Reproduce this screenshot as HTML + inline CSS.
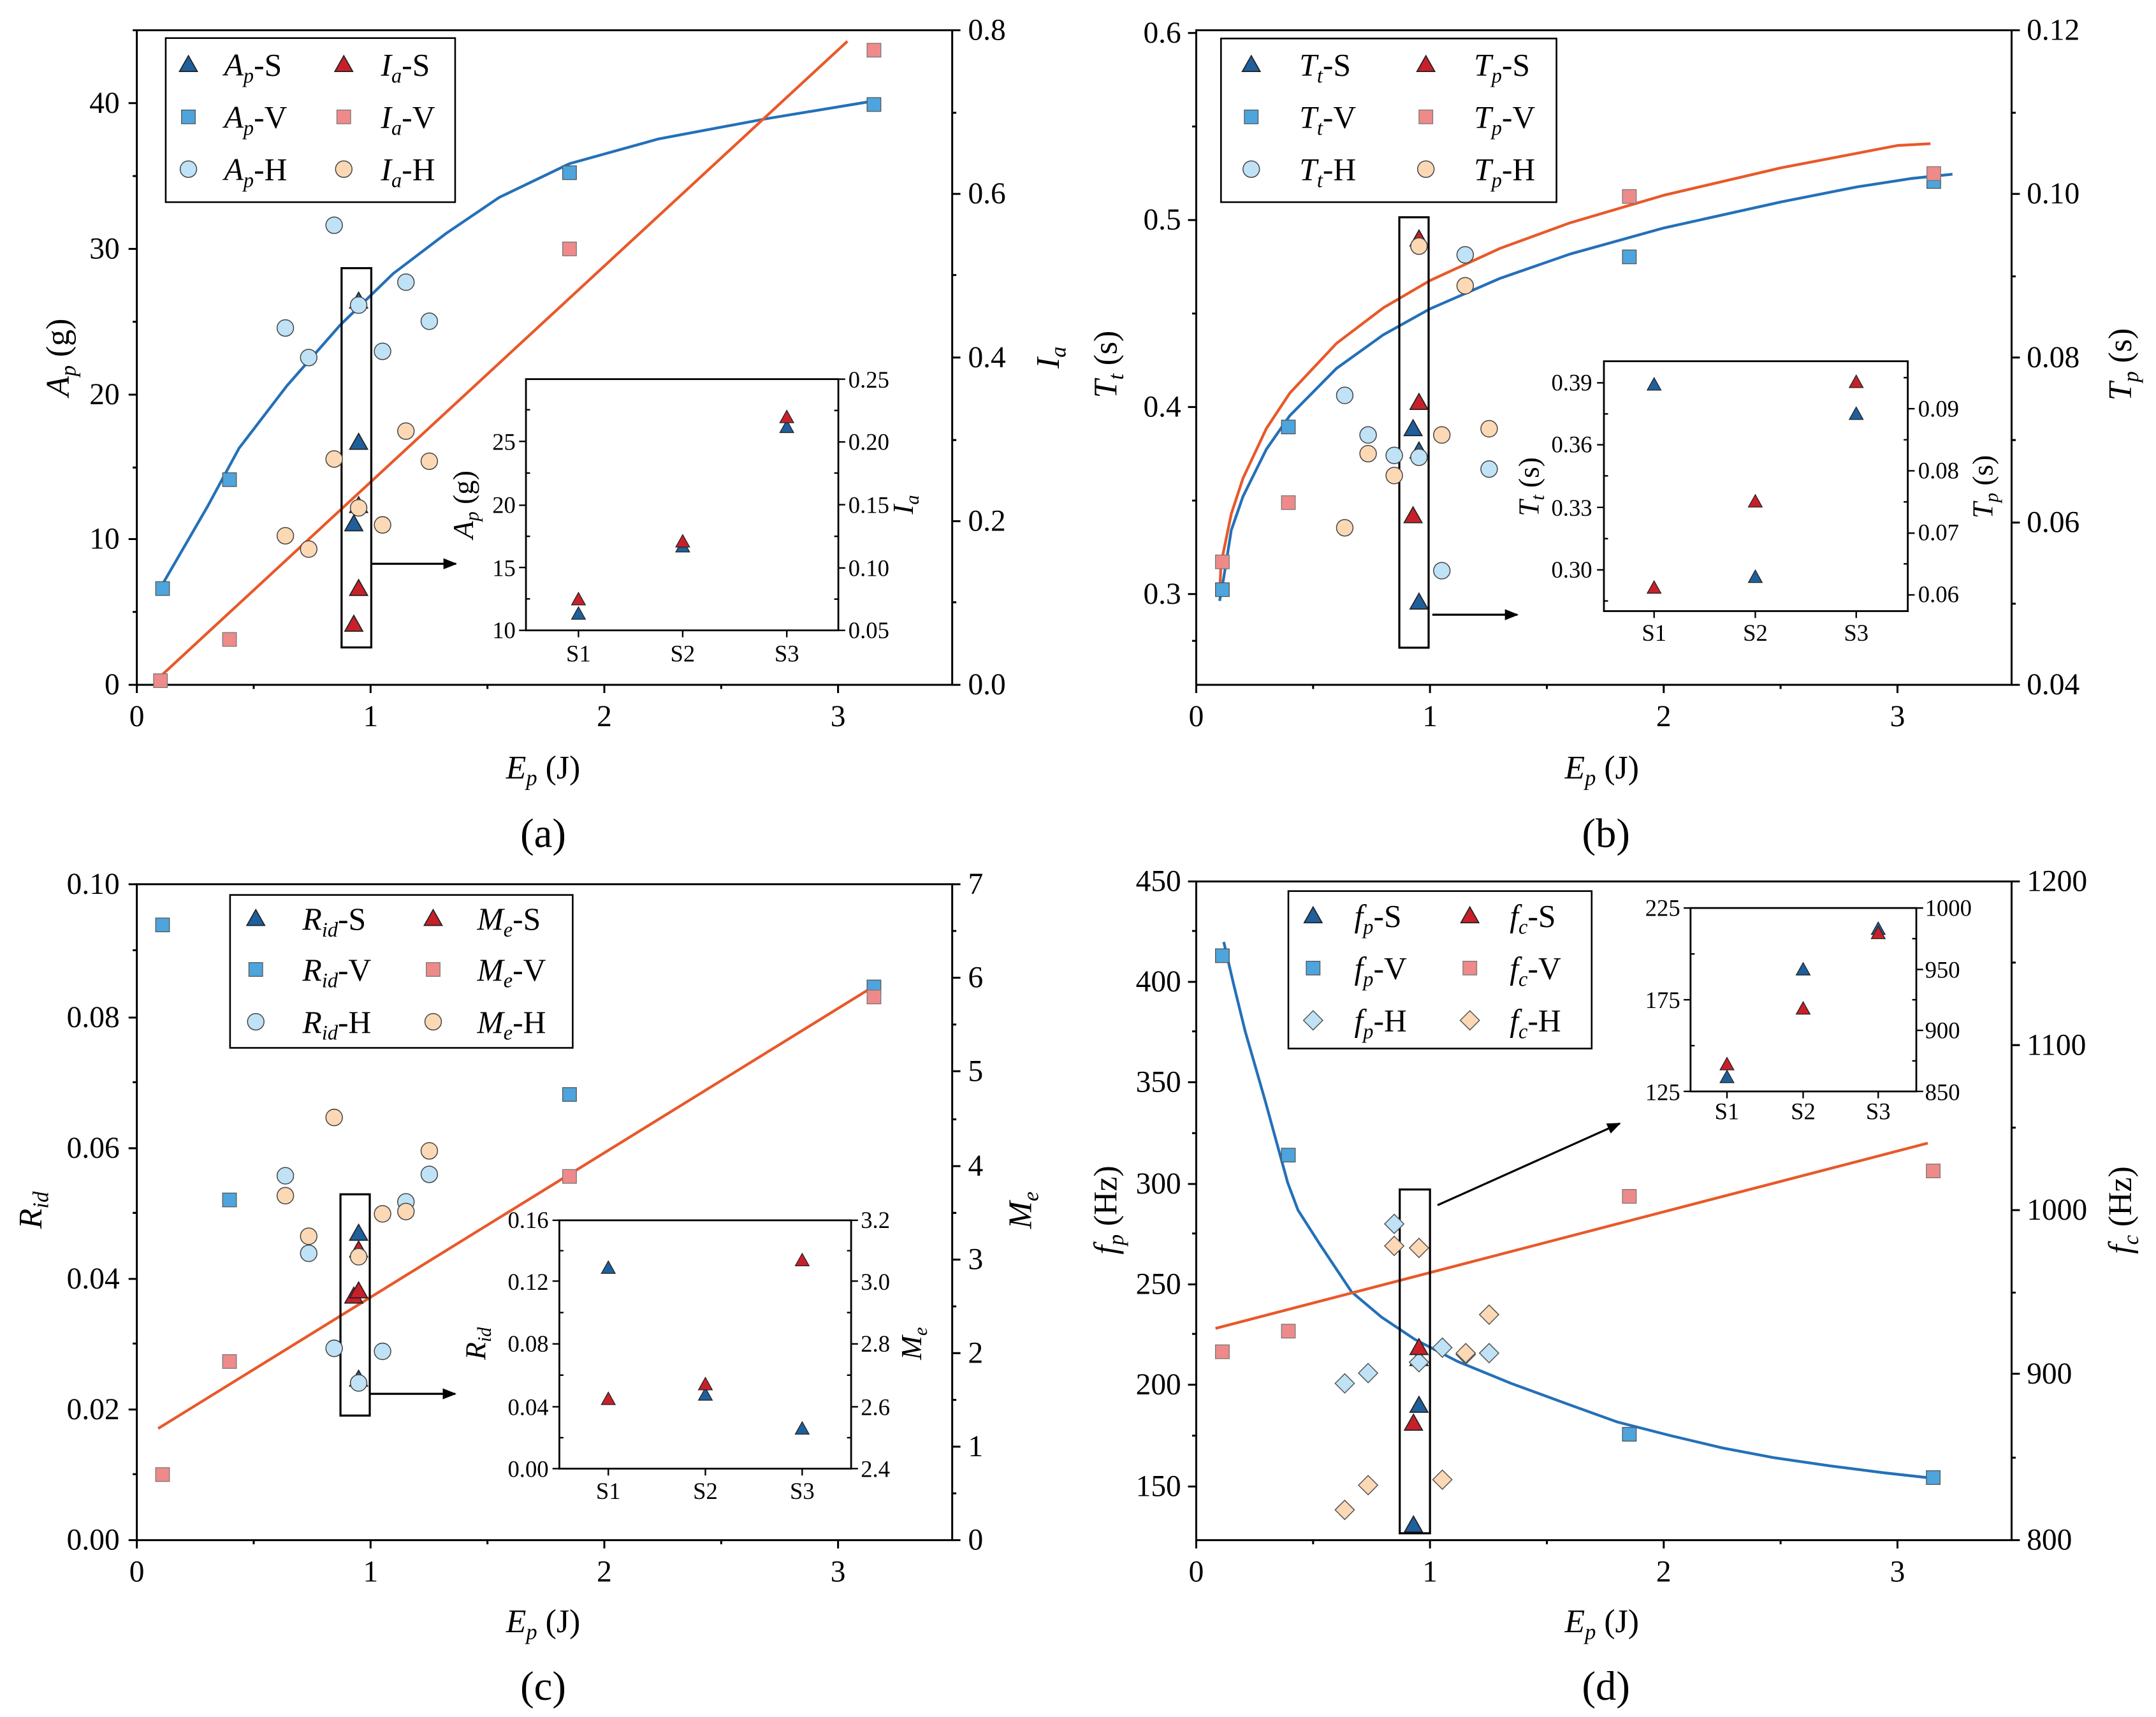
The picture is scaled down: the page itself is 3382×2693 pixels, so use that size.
<!DOCTYPE html>
<html><head><meta charset="utf-8"><style>html,body{margin:0;padding:0;background:#fff}svg{display:block}</style></head><body>
<svg xmlns="http://www.w3.org/2000/svg" width="3382" height="2693" viewBox="0 0 1568 1248.6" font-family="Liberation Serif, serif" fill="#000">
<defs>
<g id="tb"><path d="M0,-6.5 L6.5,5 L-6.5,5Z" fill="#1f5f9c" stroke="#222" stroke-width="0.8"/></g>
<g id="tr"><path d="M0,-6.5 L6.5,5 L-6.5,5Z" fill="#c8202a" stroke="#222" stroke-width="0.8"/></g>
<g id="sb"><rect x="-5" y="-5" width="10" height="10" fill="#4ea4dc" stroke="#555" stroke-width="0.6"/></g>
<g id="sp"><rect x="-5" y="-5" width="10" height="10" fill="#ef8a8a" stroke="#777" stroke-width="0.6"/></g>
<g id="cb"><circle r="6" fill="#bfe2f6" stroke="#444" stroke-width="0.7"/></g>
<g id="cp"><circle r="6" fill="#fcd8b4" stroke="#444" stroke-width="0.7"/></g>
<g id="db"><path d="M0,-7 L7,0 L0,7 L-7,0Z" fill="#bfe2f6" stroke="#555" stroke-width="0.7"/></g>
<g id="dp"><path d="M0,-7 L7,0 L0,7 L-7,0Z" fill="#fcd8b4" stroke="#555" stroke-width="0.7"/></g>
<g id="stb"><path d="M0,-5 L5,4 L-5,4Z" fill="#1f5f9c" stroke="#222" stroke-width="0.6"/></g>
<g id="str"><path d="M0,-5 L5,4 L-5,4Z" fill="#c8202a" stroke="#222" stroke-width="0.6"/></g>
<marker id="ar" markerWidth="10" markerHeight="10" refX="9" refY="5" orient="auto" markerUnits="userSpaceOnUse"><path d="M0,1 L10,5 L0,9Z" fill="#000"/></marker>
</defs>
<g stroke="#000" stroke-width="1.4" fill="none">
<rect x="99.5" y="22" width="593" height="476"/>
<rect x="870" y="22" width="593" height="476"/>
<rect x="99.5" y="643" width="593" height="477"/>
<rect x="870" y="641" width="593" height="479"/>
<path d="M99.5,498v6M184.5,498v3M269.5,498v6M354.5,498v3M439.5,498v6M524.5,498v3M609.5,498v6"/>
<path d="M99.5,498h-6M99.5,445h-3M99.5,392h-6M99.5,340h-3M99.5,287h-6M99.5,234h-3M99.5,181h-6M99.5,128h-3M99.5,75h-6M99.5,22h-3"/>
<path d="M692.5,498h6M692.5,438h3M692.5,379h6M692.5,320h3M692.5,260h6M692.5,200h3M692.5,141h6M692.5,82h3M692.5,22h6"/>
<path d="M870,498v6M955,498v3M1040,498v6M1125,498v3M1210,498v6M1295,498v3M1380,498v6"/>
<path d="M870,432h-6M870,364h-3M870,296h-6M870,228h-3M870,160h-6M870,92h-3M870,24h-6M870,466h-3"/>
<path d="M1463,498h6M1463,439h3M1463,380h6M1463,320h3M1463,260h6M1463,201h3M1463,141h6M1463,82h3M1463,22h6"/>
<path d="M99.5,1120v6M184.5,1120v3M269.5,1120v6M354.5,1120v3M439.5,1120v6M524.5,1120v3M609.5,1120v6"/>
<path d="M99.5,1120h-6M99.5,1072h-3M99.5,1025h-6M99.5,977h-3M99.5,930h-6M99.5,882h-3M99.5,835h-6M99.5,787h-3M99.5,740h-6M99.5,691h-3M99.5,643h-6"/>
<path d="M692.5,1120h6M692.5,1086h3M692.5,1052h6M692.5,1018h3M692.5,984h6M692.5,950h3M692.5,916h6M692.5,882h3M692.5,848h6M692.5,814h3M692.5,779h6M692.5,745h3M692.5,711h6M692.5,677h3M692.5,643h6"/>
<path d="M870,1120v6M955,1120v3M1040,1120v6M1125,1120v3M1210,1120v6M1295,1120v3M1380,1120v6"/>
<path d="M870,1081h-6M870,1044h-3M870,1007h-6M870,970h-3M870,934h-6M870,897h-3M870,861h-6M870,824h-3M870,787h-6M870,750h-3M870,714h-6M870,677h-3M870,641h-6"/>
<path d="M1463,1120h6M1463,1060h3M1463,999h6M1463,940h3M1463,880h6M1463,820h3M1463,760h6M1463,700h3M1463,641h6"/>
</g>
<g font-size="22" text-anchor="middle">
<text x="99.5" y="528">0</text><text x="269.5" y="528">1</text><text x="439.5" y="528">2</text><text x="609.5" y="528">3</text>
<text x="870" y="528">0</text><text x="1040" y="528">1</text><text x="1210" y="528">2</text><text x="1380" y="528">3</text>
<text x="99.5" y="1150">0</text><text x="269.5" y="1150">1</text><text x="439.5" y="1150">2</text><text x="609.5" y="1150">3</text>
<text x="870" y="1150">0</text><text x="1040" y="1150">1</text><text x="1210" y="1150">2</text><text x="1380" y="1150">3</text>
</g>
<g font-size="22" text-anchor="end">
<text x="87" y="505">0</text><text x="87" y="399">10</text><text x="87" y="294">20</text><text x="87" y="188">30</text><text x="87" y="82">40</text>
<text x="859" y="439">0.3</text><text x="859" y="303">0.4</text><text x="859" y="167">0.5</text><text x="859" y="31">0.6</text>
<text x="87" y="1127">0.00</text><text x="87" y="1032">0.02</text><text x="87" y="937">0.04</text><text x="87" y="842">0.06</text><text x="87" y="747">0.08</text><text x="87" y="650">0.10</text>
<text x="859" y="1088">150</text><text x="859" y="1014">200</text><text x="859" y="941">250</text><text x="859" y="868">300</text><text x="859" y="794">350</text><text x="859" y="721">400</text><text x="859" y="648">450</text>
</g>
<g font-size="22" text-anchor="start">
<text x="704" y="505">0.0</text><text x="704" y="386">0.2</text><text x="704" y="267">0.4</text><text x="704" y="148">0.6</text><text x="704" y="29">0.8</text>
<text x="1474" y="505">0.04</text><text x="1474" y="387">0.06</text><text x="1474" y="267">0.08</text><text x="1474" y="148">0.10</text><text x="1474" y="29">0.12</text>
<text x="704" y="1127">0</text><text x="704" y="1059">1</text><text x="704" y="991">2</text><text x="704" y="923">3</text><text x="704" y="855">4</text><text x="704" y="786">5</text><text x="704" y="718">6</text><text x="704" y="650">7</text>
<text x="1474" y="1127">800</text><text x="1474" y="1006">900</text><text x="1474" y="887">1000</text><text x="1474" y="767">1100</text><text x="1474" y="648">1200</text>
</g>
<g font-size="24" text-anchor="middle">
<text x="395" y="566"><tspan font-style="italic">E</tspan><tspan font-style="italic" font-size="16" dy="5">p</tspan><tspan dy="-5"> (J)</tspan></text>
<text x="1165" y="566"><tspan font-style="italic">E</tspan><tspan font-style="italic" font-size="16" dy="5">p</tspan><tspan dy="-5"> (J)</tspan></text>
<text x="395" y="1187"><tspan font-style="italic">E</tspan><tspan font-style="italic" font-size="16" dy="5">p</tspan><tspan dy="-5"> (J)</tspan></text>
<text x="1165" y="1187"><tspan font-style="italic">E</tspan><tspan font-style="italic" font-size="16" dy="5">p</tspan><tspan dy="-5"> (J)</tspan></text>
<text x="395" y="616" font-size="30">(a)</text><text x="1168" y="616" font-size="30">(b)</text>
<text x="395" y="1236" font-size="30">(c)</text><text x="1168" y="1236" font-size="30">(d)</text>
<text transform="translate(50,260) rotate(-90)"><tspan font-style="italic">A</tspan><tspan font-style="italic" font-size="16" dy="5">p</tspan><tspan dy="-5"> (g)</tspan></text>
<text transform="translate(770,260) rotate(-90)"><tspan font-style="italic">I</tspan><tspan font-style="italic" font-size="16" dy="5">a</tspan></text>
<text transform="translate(812,265) rotate(-90)"><tspan font-style="italic">T</tspan><tspan font-style="italic" font-size="16" dy="5">t</tspan><tspan dy="-5"> (s)</tspan></text>
<text transform="translate(1550,265) rotate(-90)"><tspan font-style="italic">T</tspan><tspan font-style="italic" font-size="16" dy="5">p</tspan><tspan dy="-5"> (s)</tspan></text>
<text transform="translate(30,880) rotate(-90)"><tspan font-style="italic">R</tspan><tspan font-style="italic" font-size="16" dy="5">id</tspan></text>
<text transform="translate(750,880) rotate(-90)"><tspan font-style="italic">M</tspan><tspan font-style="italic" font-size="16" dy="5">e</tspan></text>
<text transform="translate(812,880) rotate(-90)"><tspan font-style="italic">f</tspan><tspan font-style="italic" font-size="16" dy="5">p</tspan><tspan dy="-5"> (Hz)</tspan></text>
<text transform="translate(1550,880) rotate(-90)"><tspan font-style="italic">f</tspan><tspan font-style="italic" font-size="16" dy="5">c</tspan><tspan dy="-5"> (Hz)</tspan></text>
</g>
<g fill="none" stroke-width="2" stroke-linejoin="round">
<polyline stroke="#2470b8" points="116.7,427.4 150.7,368.7 173.8,326 208.6,280.6 247.3,236.5 285.9,199 324.5,169.7 363,143.6 414.2,119 479,101 556.4,86.5 635.6,73.4"/>
<path stroke="#e8592a" d="M114,494.3 L616.3,30"/>
<polyline stroke="#2470b8" points="887,437 890,420 895.5,385.5 904,361 921,326.7 938,302.3 972,267.9 1006,243.5 1040,224.6 1091,202.4 1142,184.7 1210,165.8 1295,146.9 1350,136 1390,129.8 1420,126.7"/>
<polyline stroke="#e8592a" points="887,432 888,409.9 895.5,373.6 904,347.8 921,311.6 938,285.9 972,249.7 1006,223.9 1040,204 1091,180.6 1142,162 1210,142 1295,122.1 1380,105.8 1404,104.5"/>
<path stroke="#e8592a" d="M115,1038.8 L638.3,715.5"/>
<polyline stroke="#2470b8" points="890,685 897,715 905.6,750 920,800 936.5,860 944,880 960,905 983,939.5 1005,958 1029,974 1060,990 1099,1006 1140,1021 1176,1034 1215,1044 1253,1053 1290,1060 1331,1066 1370,1071 1406,1075"/>
<path stroke="#e8592a" d="M884,966 L1402,831.3"/>
</g>
<g fill="none" stroke="#000" stroke-width="1.5">
<rect x="248.4" y="195" width="21.6" height="275.8"/>
<rect x="1017.7" y="158" width="21.3" height="313"/>
<rect x="247.6" y="868.5" width="21.3" height="160.9"/>
<rect x="1018" y="865" width="22" height="250"/>
<path d="M270,410H331.5" marker-end="url(#ar)"/>
<path d="M1041.7,447H1103.5" marker-end="url(#ar)"/>
<path d="M268.9,1013.6H331" marker-end="url(#ar)"/>
<path d="M1045.5,876.4L1178,817" marker-end="url(#ar)"/>
</g>
<!-- a data -->
<use href="#sb" x="118.2" y="428"/><use href="#sb" x="166.9" y="348.8"/><use href="#sb" x="414.2" y="125.6"/><use href="#sb" x="635.6" y="76"/>
<use href="#sp" x="116.7" y="495"/><use href="#sp" x="166.9" y="465"/><use href="#sp" x="414.2" y="181"/><use href="#sp" x="635.6" y="36.5"/>
<use href="#cb" x="207.5" y="238.5"/><use href="#cb" x="224.5" y="260"/><use href="#cb" x="243" y="163.8"/><use href="#cb" x="278.2" y="255.5"/><use href="#cb" x="295.2" y="205.2"/><use href="#cb" x="312.2" y="233.6"/>
<use href="#cp" x="207.5" y="389.6"/><use href="#cp" x="224.5" y="399.3"/><use href="#cp" x="243" y="333.8"/><use href="#cp" x="278.2" y="381.7"/><use href="#cp" x="295.2" y="313.5"/><use href="#cp" x="312.2" y="335.4"/>
<use href="#tr" x="260.8" y="367.7"/><use href="#cp" x="260.8" y="369.3"/>
<use href="#tb" x="260.8" y="219"/><use href="#cb" x="260.8" y="221.9"/>
<use href="#tb" x="260.8" y="321.7"/><use href="#tb" x="257.3" y="381"/>
<use href="#tr" x="260.8" y="428"/><use href="#tr" x="257.3" y="454"/>
<!-- b data -->
<use href="#sb" x="889" y="428.8"/><use href="#sb" x="937" y="310.5"/><use href="#sb" x="1185" y="186.8"/><use href="#sb" x="1406.4" y="132"/>
<use href="#sp" x="889" y="408.6"/><use href="#sp" x="937" y="365.5"/><use href="#sp" x="1185" y="142.9"/><use href="#sp" x="1406.4" y="126.2"/>
<use href="#cb" x="978" y="287.5"/><use href="#cb" x="995" y="316.3"/><use href="#cb" x="1014" y="331.2"/><use href="#cb" x="1048.6" y="415"/><use href="#cb" x="1065.6" y="185.3"/><use href="#cb" x="1083" y="341.1"/>
<use href="#cp" x="978" y="383.8"/><use href="#cp" x="995" y="329.9"/><use href="#cp" x="1014" y="345.8"/><use href="#cp" x="1048.6" y="316.3"/><use href="#cp" x="1065.6" y="207.8"/><use href="#cp" x="1083" y="311.8"/>
<use href="#tr" x="1032" y="173.8"/><use href="#cp" x="1032" y="179"/>
<use href="#tb" x="1032" y="328"/><use href="#cb" x="1032" y="332.5"/>
<use href="#tb" x="1027.7" y="311.8"/><use href="#tb" x="1032" y="437.9"/><use href="#tr" x="1032" y="292.7"/><use href="#tr" x="1027.7" y="375.1"/>
<!-- c data -->
<use href="#sb" x="118.2" y="672.6"/><use href="#sb" x="166.9" y="872.6"/><use href="#sb" x="414.2" y="795.9"/><use href="#sb" x="635.6" y="717.7"/>
<use href="#sp" x="118.2" y="1072.3"/><use href="#sp" x="166.9" y="990.1"/><use href="#sp" x="414.2" y="855.5"/><use href="#sp" x="635.6" y="725"/>
<use href="#cb" x="207.5" y="855"/><use href="#cb" x="224.5" y="911.4"/><use href="#cb" x="243" y="980.5"/><use href="#cb" x="278.2" y="982.7"/><use href="#cb" x="295.2" y="874"/><use href="#cb" x="312.2" y="854"/>
<use href="#cp" x="207.5" y="869.5"/><use href="#cp" x="224.5" y="899"/><use href="#cp" x="243" y="812.6"/><use href="#cp" x="278.2" y="882.7"/><use href="#cp" x="295.2" y="881"/><use href="#cp" x="312.2" y="836.9"/>
<use href="#tb" x="260.8" y="1003"/><use href="#cb" x="260.8" y="1005.7"/>
<use href="#tr" x="260.8" y="909"/><use href="#cp" x="260.8" y="913.9"/>
<use href="#tb" x="260.8" y="896.9"/><use href="#tr" x="257.3" y="942.6"/><use href="#tr" x="260.8" y="938.8"/>
<!-- d data -->
<use href="#sb" x="889" y="695"/><use href="#sb" x="937" y="840"/><use href="#sb" x="1185" y="1043"/><use href="#sb" x="1406" y="1074.5"/>
<use href="#sp" x="889" y="983"/><use href="#sp" x="937" y="968"/><use href="#sp" x="1185" y="870"/><use href="#sp" x="1406" y="851.5"/>
<use href="#db" x="1014" y="890"/><use href="#db" x="978" y="1006"/><use href="#db" x="995" y="998.5"/><use href="#db" x="1049" y="980"/><use href="#db" x="1066" y="985"/><use href="#db" x="1083" y="984"/>
<use href="#dp" x="1014" y="906"/><use href="#dp" x="1032" y="907.5"/><use href="#dp" x="1083" y="956"/><use href="#dp" x="1066" y="984"/><use href="#dp" x="978" y="1098"/><use href="#dp" x="995" y="1080"/><use href="#dp" x="1049" y="1076"/>
<use href="#tb" x="1032" y="988"/><use href="#db" x="1032" y="990.6"/>
<use href="#tb" x="1032" y="1022"/><use href="#tb" x="1028" y="1109"/><use href="#tr" x="1032" y="980"/><use href="#tr" x="1028" y="1035"/>
<!-- insets -->
<g fill="#fff" stroke="#000" stroke-width="1.3">
<rect x="382.5" y="275.7" width="227.2" height="182.7"/>
<rect x="1166.5" y="262.7" width="221" height="181.7"/>
<rect x="406.8" y="887.4" width="212.2" height="180.6"/>
<rect x="1229.5" y="660.3" width="164.2" height="133.4"/>
</g>
<g stroke="#000" stroke-width="1.1" fill="none">
<path d="M382.5,458.4h-5M382.5,412.7h-5M382.5,367.4h-5M382.5,321h-5M382.5,435.5h3M382.5,390h3M382.5,344h3M382.5,298h3M609.7,275.7h5M609.7,321.4h5M609.7,367h5M609.7,413h5M609.7,458.4h5M609.7,298.5h-3M609.7,344h-3M609.7,390h-3M609.7,435.7h-3M420.7,458.4v5M496.5,458.4v5M572.2,458.4v5"/>
<path d="M1166.5,278.4h-5M1166.5,323.4h-5M1166.5,369h-5M1166.5,414.4h-5M1166.5,301h3M1166.5,346h3M1166.5,391.7h3M1166.5,437h3M1387.5,297.2h5M1387.5,342.4h5M1387.5,387.7h5M1387.5,432.6h5M1387.5,274.6h-3M1387.5,319.8h-3M1387.5,365h-3M1387.5,410h-3M1203,444.4v5M1276.6,444.4v5M1350,444.4v5"/>
<path d="M406.8,1068h-5M406.8,1023h-5M406.8,977.3h-5M406.8,931.6h-5M406.8,887.4h-5M406.8,1045.5h3M406.8,1000h3M406.8,954.5h3M406.8,909.5h3M619,1068h5M619,1023h5M619,977.3h5M619,931.6h5M619,887.4h5M619,1045.5h-3M619,1000h-3M619,954.5h-3M619,909.5h-3M442.4,1068v5M513,1068v5M583.4,1068v5"/>
<path d="M1229.5,660.3h-5M1229.5,693.7h3M1229.5,727h-5M1229.5,760.4h3M1229.5,793.7h-5M1393.7,660.3h5M1393.7,705h5M1393.7,749.3h5M1393.7,793.7h5M1393.7,682.6h-3M1393.7,727h-3M1393.7,771.5h-3M1256,793.7v5M1311.4,793.7v5M1366,793.7v5"/>
</g>
<g font-size="17" text-anchor="middle">
<text x="420.7" y="481">S1</text><text x="496.5" y="481">S2</text><text x="572.2" y="481">S3</text>
<text x="1203" y="466">S1</text><text x="1276.6" y="466">S2</text><text x="1350" y="466">S3</text>
<text x="442.4" y="1090">S1</text><text x="513" y="1090">S2</text><text x="583.4" y="1090">S3</text>
<text x="1256" y="814">S1</text><text x="1311.4" y="814">S2</text><text x="1366" y="814">S3</text>
</g>
<g font-size="17" text-anchor="end">
<text x="375" y="464">10</text><text x="375" y="419">15</text><text x="375" y="373">20</text><text x="375" y="327">25</text>
<text x="1158" y="284">0.39</text><text x="1158" y="329">0.36</text><text x="1158" y="375">0.33</text><text x="1158" y="420">0.30</text>
<text x="399" y="1074">0.00</text><text x="399" y="1029">0.04</text><text x="399" y="983">0.08</text><text x="399" y="938">0.12</text><text x="399" y="893">0.16</text>
<text x="1222" y="666">225</text><text x="1222" y="733">175</text><text x="1222" y="800">125</text>
</g>
<g font-size="17" text-anchor="start">
<text x="617" y="282">0.25</text><text x="617" y="327">0.20</text><text x="617" y="373">0.15</text><text x="617" y="419">0.10</text><text x="617" y="464">0.05</text>
<text x="1395" y="303">0.09</text><text x="1395" y="348">0.08</text><text x="1395" y="393">0.07</text><text x="1395" y="438">0.06</text>
<text x="626" y="1074">2.4</text><text x="626" y="1029">2.6</text><text x="626" y="983">2.8</text><text x="626" y="938">3.0</text><text x="626" y="893">3.2</text>
<text x="1400" y="666">1000</text><text x="1400" y="711">950</text><text x="1400" y="755">900</text><text x="1400" y="800">850</text>
</g>
<g font-size="21" text-anchor="middle">
<text transform="translate(344,367) rotate(-90)"><tspan font-style="italic">A</tspan><tspan font-style="italic" font-size="14" dy="4">p</tspan><tspan dy="-4"> (g)</tspan></text>
<text transform="translate(664,367) rotate(-90)"><tspan font-style="italic">I</tspan><tspan font-style="italic" font-size="14" dy="4">a</tspan></text>
<text transform="translate(1119,354) rotate(-90)"><tspan font-style="italic">T</tspan><tspan font-style="italic" font-size="14" dy="4">t</tspan><tspan dy="-4"> (s)</tspan></text>
<text transform="translate(1449,354) rotate(-90)"><tspan font-style="italic">T</tspan><tspan font-style="italic" font-size="14" dy="4">p</tspan><tspan dy="-4"> (s)</tspan></text>
<text transform="translate(353,977) rotate(-90)"><tspan font-style="italic">R</tspan><tspan font-style="italic" font-size="14" dy="4">id</tspan></text>
<text transform="translate(670,977) rotate(-90)"><tspan font-style="italic">M</tspan><tspan font-style="italic" font-size="14" dy="4">e</tspan></text>
</g>
<use href="#stb" x="420.7" y="446.3"/><use href="#stb" x="496.5" y="397.4"/><use href="#stb" x="572.2" y="310.6"/>
<use href="#str" x="420.7" y="435.9"/><use href="#str" x="496.5" y="393.8"/><use href="#str" x="572.2" y="303.4"/>
<use href="#stb" x="1203" y="279.7"/><use href="#stb" x="1276.6" y="419.6"/><use href="#stb" x="1350" y="301"/>
<use href="#str" x="1203" y="427.4"/><use href="#str" x="1276.6" y="364.7"/><use href="#str" x="1350" y="277.8"/>
<use href="#stb" x="442.4" y="922"/><use href="#stb" x="513" y="1014.2"/><use href="#stb" x="583.4" y="1038.9"/>
<use href="#str" x="442.4" y="1017.4"/><use href="#str" x="513" y="1006.7"/><use href="#str" x="583.4" y="916.5"/>
<use href="#stb" x="1256" y="783.3"/><use href="#stb" x="1311.4" y="705"/><use href="#stb" x="1366" y="675.5"/>
<use href="#str" x="1256" y="774"/><use href="#str" x="1311.4" y="733.5"/><use href="#str" x="1366" y="678.6"/>
<!-- legends -->
<g fill="#fff" stroke="#000" stroke-width="1.2">
<rect x="120.5" y="27.7" width="210.5" height="119.3"/>
<rect x="888" y="28" width="244" height="119"/>
<rect x="167.3" y="650.8" width="249.2" height="111.2"/>
<rect x="937" y="648" width="220.6" height="114.5"/>
</g>
<g font-size="23">
<use href="#tb" x="137" y="47"/><use href="#sb" x="137" y="85"/><use href="#cb" x="137" y="123"/>
<use href="#tr" x="250" y="47"/><use href="#sp" x="250" y="85"/><use href="#cp" x="250" y="123"/>
<text x="163" y="55"><tspan font-style="italic">A</tspan><tspan font-style="italic" font-size="15" dy="5">p</tspan><tspan dy="-5">-S</tspan></text>
<text x="163" y="93"><tspan font-style="italic">A</tspan><tspan font-style="italic" font-size="15" dy="5">p</tspan><tspan dy="-5">-V</tspan></text>
<text x="163" y="131"><tspan font-style="italic">A</tspan><tspan font-style="italic" font-size="15" dy="5">p</tspan><tspan dy="-5">-H</tspan></text>
<text x="277" y="55"><tspan font-style="italic">I</tspan><tspan font-style="italic" font-size="15" dy="5">a</tspan><tspan dy="-5">-S</tspan></text>
<text x="277" y="93"><tspan font-style="italic">I</tspan><tspan font-style="italic" font-size="15" dy="5">a</tspan><tspan dy="-5">-V</tspan></text>
<text x="277" y="131"><tspan font-style="italic">I</tspan><tspan font-style="italic" font-size="15" dy="5">a</tspan><tspan dy="-5">-H</tspan></text>

<use href="#tb" x="910" y="47"/><use href="#sb" x="910" y="85"/><use href="#cb" x="910" y="123"/>
<use href="#tr" x="1037" y="47"/><use href="#sp" x="1037" y="85"/><use href="#cp" x="1037" y="123"/>
<text x="945" y="55"><tspan font-style="italic">T</tspan><tspan font-style="italic" font-size="15" dy="5">t</tspan><tspan dy="-5">-S</tspan></text>
<text x="945" y="93"><tspan font-style="italic">T</tspan><tspan font-style="italic" font-size="15" dy="5">t</tspan><tspan dy="-5">-V</tspan></text>
<text x="945" y="131"><tspan font-style="italic">T</tspan><tspan font-style="italic" font-size="15" dy="5">t</tspan><tspan dy="-5">-H</tspan></text>
<text x="1072" y="55"><tspan font-style="italic">T</tspan><tspan font-style="italic" font-size="15" dy="5">p</tspan><tspan dy="-5">-S</tspan></text>
<text x="1072" y="93"><tspan font-style="italic">T</tspan><tspan font-style="italic" font-size="15" dy="5">p</tspan><tspan dy="-5">-V</tspan></text>
<text x="1072" y="131"><tspan font-style="italic">T</tspan><tspan font-style="italic" font-size="15" dy="5">p</tspan><tspan dy="-5">-H</tspan></text>

<use href="#tb" x="186" y="668"/><use href="#sb" x="186" y="705"/><use href="#cb" x="186" y="743"/>
<use href="#tr" x="315" y="668"/><use href="#sp" x="315" y="705"/><use href="#cp" x="315" y="743"/>
<text x="220" y="676"><tspan font-style="italic">R</tspan><tspan font-style="italic" font-size="15" dy="5">id</tspan><tspan dy="-5">-S</tspan></text>
<text x="220" y="713"><tspan font-style="italic">R</tspan><tspan font-style="italic" font-size="15" dy="5">id</tspan><tspan dy="-5">-V</tspan></text>
<text x="220" y="751"><tspan font-style="italic">R</tspan><tspan font-style="italic" font-size="15" dy="5">id</tspan><tspan dy="-5">-H</tspan></text>
<text x="347" y="676"><tspan font-style="italic">M</tspan><tspan font-style="italic" font-size="15" dy="5">e</tspan><tspan dy="-5">-S</tspan></text>
<text x="347" y="713"><tspan font-style="italic">M</tspan><tspan font-style="italic" font-size="15" dy="5">e</tspan><tspan dy="-5">-V</tspan></text>
<text x="347" y="751"><tspan font-style="italic">M</tspan><tspan font-style="italic" font-size="15" dy="5">e</tspan><tspan dy="-5">-H</tspan></text>

<use href="#tb" x="955" y="666"/><use href="#sb" x="955" y="704"/><use href="#db" x="955" y="742"/>
<use href="#tr" x="1069" y="666"/><use href="#sp" x="1069" y="704"/><use href="#dp" x="1069" y="742"/>
<text x="985" y="674"><tspan font-style="italic">f</tspan><tspan font-style="italic" font-size="15" dy="5">p</tspan><tspan dy="-5">-S</tspan></text>
<text x="985" y="712"><tspan font-style="italic">f</tspan><tspan font-style="italic" font-size="15" dy="5">p</tspan><tspan dy="-5">-V</tspan></text>
<text x="985" y="750"><tspan font-style="italic">f</tspan><tspan font-style="italic" font-size="15" dy="5">p</tspan><tspan dy="-5">-H</tspan></text>
<text x="1098" y="674"><tspan font-style="italic">f</tspan><tspan font-style="italic" font-size="15" dy="5">c</tspan><tspan dy="-5">-S</tspan></text>
<text x="1098" y="712"><tspan font-style="italic">f</tspan><tspan font-style="italic" font-size="15" dy="5">c</tspan><tspan dy="-5">-V</tspan></text>
<text x="1098" y="750"><tspan font-style="italic">f</tspan><tspan font-style="italic" font-size="15" dy="5">c</tspan><tspan dy="-5">-H</tspan></text>
</g>
</svg>
</body></html>
